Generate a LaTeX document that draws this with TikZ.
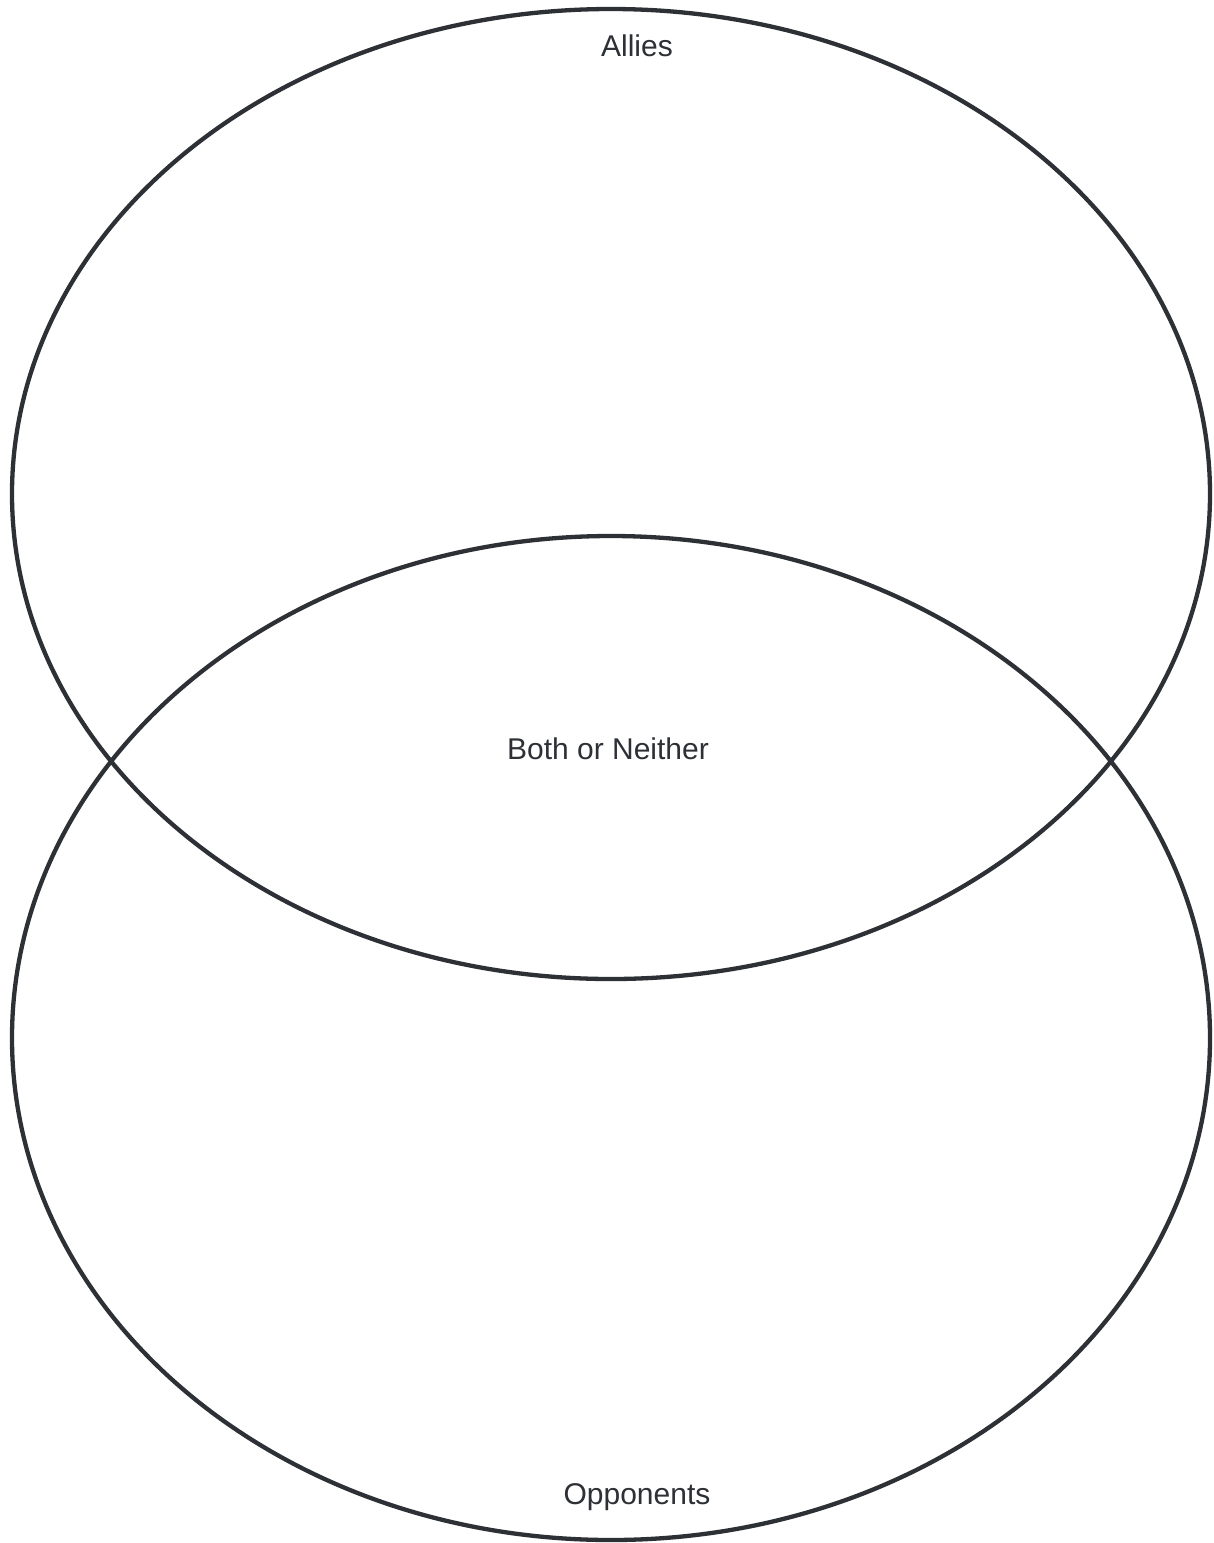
\documentclass[tikz,border=0pt]{standalone}
\usepackage{fontspec}
\setmainfont{Liberation Sans}
\definecolor{ink}{HTML}{2D3035}
\begin{document}
\begin{tikzpicture}[x=1pt,y=1pt,
  ring/.style={draw=ink,line width=4.3pt},
  lbl/.style={text=ink,font=\fontsize{30}{35}\selectfont,inner sep=0pt}]
\useasboundingbox[fill=white] (0,0) rectangle (1214,-1543);
\draw[ring] (611,-494) ellipse [x radius=599, y radius=485];
\draw[ring] (611,-1038) ellipse [x radius=599, y radius=502];
\node[lbl] (allies) at (637,-46) {Allies};
\node[lbl] (both) at (608,-749) {Both or Neither};
\node[lbl] (opp) at (637,-1497) {Opponents};
\end{tikzpicture}
\end{document}
